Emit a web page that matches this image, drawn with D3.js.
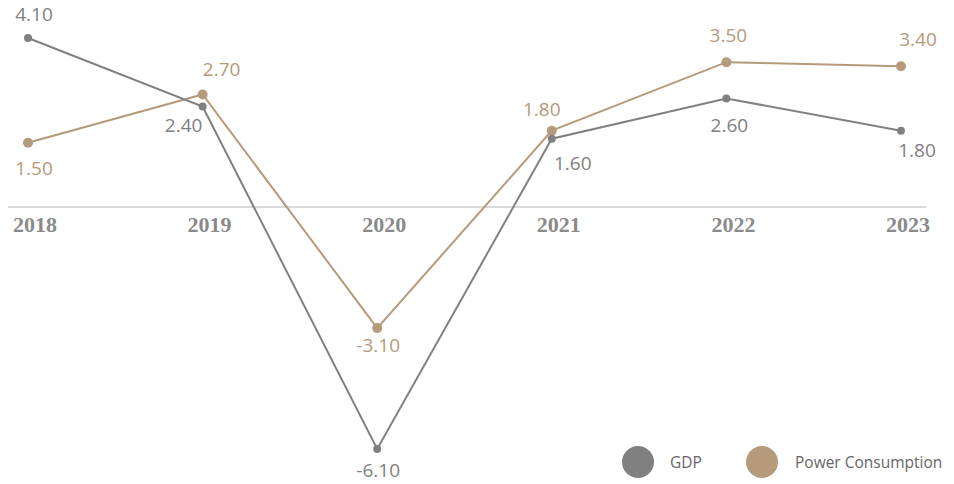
<!DOCTYPE html>
<html>
<head>
<meta charset="utf-8">
<script src="https://cdn.jsdelivr.net/npm/d3@7"></script>
<style>
  html, body { margin: 0; padding: 0; background: #fff; }
  svg { display: block; }
</style>
</head>
<body>
<svg id="chart" width="954" height="484"></svg>
<script>
const years = ["2018", "2019", "2020", "2021", "2022", "2023"];
const gdp = [4.10, 2.40, -6.10, 1.60, 2.60, 1.80];
const power = [1.50, 2.70, -3.10, 1.80, 3.50, 3.40];
const seriesNames = ["GDP", "Power Consumption"];

// label offsets (layout only)
const gdpLabelDx = [6, -19, 1, 21, 3, 16];
const gdpLabelDy = [-17, 25, 28, 31, 34, 26];
const powerLabelDx = [6, 19, 1, -10, 2, 17];
const powerLabelDy = [32, -18, 24, -15, -20, -20];

const gdpColor = "#808080";
const powerColor = "#b59a7b";

const svg = d3.select("#chart");

const x = d3.scalePoint().domain(years).range([28, 901]);
const y = d3.scaleLinear().domain([-6.1, 4.1]).range([449, 38]);

// baseline
svg.append("line")
  .attr("x1", 8).attr("x2", 926)
  .attr("y1", y(0) + 3.8).attr("y2", y(0) + 3.8)
  .attr("stroke", "#b4b4b4").attr("stroke-width", 1);

// year labels
svg.append("g").selectAll("text").data(years).join("text")
  .attr("x", d => x(d) + 7)
  .attr("y", 232)
  .attr("text-anchor", "middle")
  .attr("font-family", "'Liberation Serif', serif")
  .attr("font-weight", "bold")
  .attr("font-size", 22)
  .attr("fill", "#8a8a8a")
  .text(d => d);

const line = d3.line().x(d => x(d.year)).y(d => y(d.v));

function drawSeries(values, color, r, dxs, dys) {
  const data = years.map((yr, i) => ({ year: yr, v: values[i], i }));
  const g = svg.append("g");
  g.append("path").datum(data)
    .attr("d", line)
    .attr("fill", "none")
    .attr("stroke", color)
    .attr("stroke-width", 2);
  g.selectAll("circle").data(data).join("circle")
    .attr("cx", d => x(d.year)).attr("cy", d => y(d.v))
    .attr("r", r).attr("fill", color);
  g.selectAll("text").data(data).join("text")
    .attr("x", d => x(d.year) + dxs[d.i])
    .attr("y", d => y(d.v) + dys[d.i])
    .attr("text-anchor", "middle")
    .attr("font-family", "'Open Sans', sans-serif")
    .attr("font-size", 19)
    .attr("fill", color)
    .text(d => d.v.toFixed(2));
}

drawSeries(power, powerColor, 5, powerLabelDx, powerLabelDy);
drawSeries(gdp, gdpColor, 4, gdpLabelDx, gdpLabelDy);

// legend
const legend = svg.append("g");
const legendItems = [
  { name: seriesNames[0], color: gdpColor, cx: 638, tx: 670 },
  { name: seriesNames[1], color: powerColor, cx: 762, tx: 795 }
];
legendItems.forEach(it => {
  legend.append("circle").attr("cx", it.cx).attr("cy", 462).attr("r", 16).attr("fill", it.color);
  legend.append("text").attr("x", it.tx).attr("y", 468)
    .attr("font-family", "'Open Sans', sans-serif")
    .attr("font-size", 15.5)
    .attr("fill", "#666")
    .text(it.name);
});
</script>
</body>
</html>
